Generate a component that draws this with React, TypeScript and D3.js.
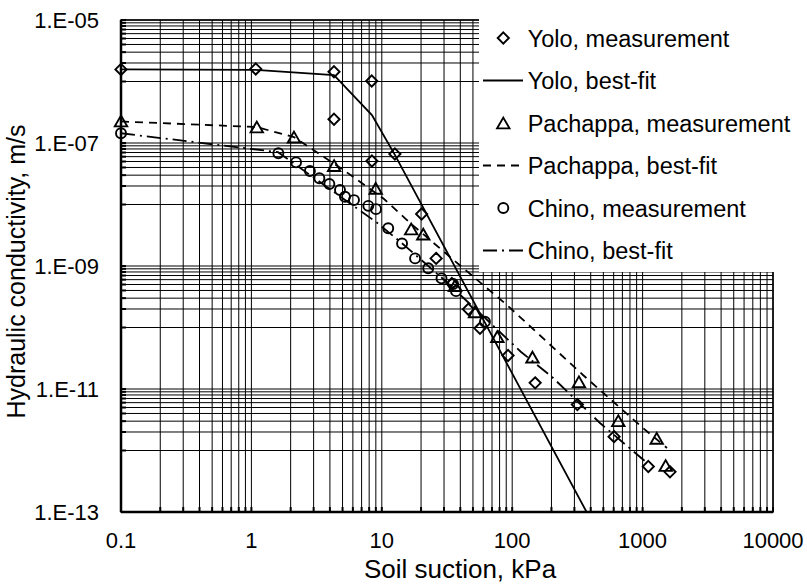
import React from "react";
import * as d3 from "d3";

// ---- data ----
const yoloMeasX = [0.1, 1.08, 4.3, 8.37, 4.3, 12.6, 8.4, 20.2, 26.1, 34.5, 46.1, 56.6, 92.9, 150, 316, 604, 1106, 1622];
const yoloMeasK = [1.57e-6, 1.6e-6, 1.44e-6, 1.02e-6, 2.43e-7, 6.62e-8, 5.1e-8, 7.0e-9, 1.33e-9, 5.2e-10, 1.98e-10, 9.7e-11, 3.5e-11, 1.26e-11, 5.6e-12, 1.68e-12, 5.5e-13, 4.5e-13];
const yoloFitX = [0.1, 1.08, 4.3, 8.4, 12.6, 372];
const yoloFitK = [1.57e-6, 1.54e-6, 1.27e-6, 2.85e-7, 6.4e-8, 1e-13];

const pachMeasX = [0.1, 1.1, 2.12, 4.31, 8.98, 16.8, 20.8, 36.4, 51.9, 76.9, 143, 325, 651, 1283, 1503];
const pachMeasK = [2.28e-7, 1.82e-7, 1.25e-7, 4.3e-8, 1.83e-8, 4.0e-9, 3.3e-9, 4.8e-10, 1.8e-10, 7.1e-11, 3.3e-11, 1.31e-11, 3.05e-12, 1.58e-12, 5.7e-13];
const pachFitX = [0.1, 1.09, 2.12, 5.22, 10.4, 16.5, 41.2, 91.2, 349, 1007, 1538];
const pachFitK = [2.24e-7, 1.82e-7, 1.25e-7, 3.5e-8, 1.23e-8, 5.0e-9, 9.6e-10, 2.32e-10, 1.69e-11, 2.32e-12, 1.1e-12];

const chinoMeasX = [0.1, 1.61, 2.2, 2.81, 3.32, 3.96, 4.78, 5.22, 6.12, 7.88, 9.03, 11.2, 14.3, 18.0, 22.7, 28.7, 35.2, 37.1, 61.8];
const chinoMeasK = [1.44e-7, 6.8e-8, 4.85e-8, 3.5e-8, 2.67e-8, 2.15e-8, 1.72e-8, 1.34e-8, 1.18e-8, 9.5e-9, 8.4e-9, 4.1e-9, 2.32e-9, 1.33e-9, 9.2e-10, 6.3e-10, 5.1e-10, 3.9e-10, 1.24e-10];
const chinoFitX = [0.1, 1.6, 9.03, 14.2, 28.5, 61.8, 117, 202, 471, 1081];
const chinoFitK = [1.44e-7, 7.1e-8, 5.2e-9, 2.37e-9, 6.6e-10, 1.43e-10, 4.0e-11, 1.57e-11, 2.8e-12, 6.3e-13];

const xTickValues = [0.1, 1, 10, 100, 1000, 10000];
const xTickLabels = ["0.1", "1", "10", "100", "1000", "10000"];
const yTickValues = [1e-13, 1e-11, 1e-9, 1e-7, 1e-5];
const yTickLabels = ["1.E-13", "1.E-11", "1.E-09", "1.E-07", "1.E-05"];

const legendLabels = [
  "Yolo, measurement",
  "Yolo, best-fit",
  "Pachappa, measurement",
  "Pachappa, best-fit",
  "Chino, measurement",
  "Chino, best-fit",
];

const W = 807, H = 584;
const L = 121, R = 773, T = 20, B = 512;
const FONT = "'Liberation Sans', Arial, sans-serif";

const x = d3.scaleLog().domain([0.1, 10000]).range([L, R]);
const y = d3.scaleLog().domain([1e-13, 1e-5]).range([B, T]);

const diamondPath = (r: number) => `M0,${-r}L${r},0L0,${r}L${-r},0Z`;
const trianglePath = (h: number, w: number) => `M0,${-h}L${w},${h}L${-w},${h}Z`;

function Marker({ kind, cx, cy }: { kind: string; cx: number; cy: number }) {
  const common = { fill: "none", stroke: "#000", strokeWidth: 1.9 };
  if (kind === "diamond") return <path d={diamondPath(5.6)} transform={`translate(${cx},${cy})`} {...common} />;
  if (kind === "triangle") return <path d={trianglePath(5.4, 6.2)} transform={`translate(${cx},${cy})`} {...common} />;
  return <circle cx={cx} cy={cy} r={5} {...common} />;
}

export default function App() {
  // gridlines
  const xGrid: number[] = [];
  for (let e = -1; e < 4; e++) for (let k = 1; k <= 9; k++) xGrid.push(k * Math.pow(10, e));
  xGrid.push(10000);
  const yGrid: number[] = [...yTickValues];
  for (let i = 0; i < yTickValues.length - 1; i++)
    for (let k = 1; k <= 9; k++) yGrid.push(yTickValues[i] * 10 * k);

  const line = d3
    .line<[number, number]>()
    .x((d) => x(d[0]))
    .y((d) => y(d[1]));
  const zip = (a: number[], b: number[]) => a.map((v, i) => [v, b[i]] as [number, number]);

  const lineStyles = [
    { key: "yolo", d: line(zip(yoloFitX, yoloFitK)), dash: undefined },
    { key: "pach", d: line(zip(pachFitX, pachFitK)), dash: "8,6" },
    { key: "chino", d: line(zip(chinoFitX, chinoFitK)), dash: "14,5,2,5" },
  ];

  const legendY0 = 38;
  const legendDy = 42.5;

  return (
    <svg width={W} height={H} style={{ position: "absolute", left: 0, top: 0, background: "#fff" }} fontFamily={FONT}>
      <defs>
        <clipPath id="plotClip">
          <rect x={L} y={T} width={R - L} height={B - T} />
        </clipPath>
      </defs>
      <rect x={0} y={0} width={W} height={H} fill="#fff" />
      {/* grid */}
      {xGrid.map((v, i) => (
        <line key={"xg" + i} x1={x(v)} x2={x(v)} y1={T} y2={B} stroke="#000" strokeWidth={1} />
      ))}
      {yGrid.map((v, i) => (
        <line key={"yg" + i} x1={L} x2={R} y1={y(v)} y2={y(v)} stroke="#000" strokeWidth={1} />
      ))}
      {/* inner ticks */}
      {yGrid.map((v, i) => (
        <line key={"yt" + i} x1={L} x2={L + 5} y1={y(v)} y2={y(v)} stroke="#000" strokeWidth={2} />
      ))}
      {xGrid.map((v, i) => (
        <line key={"xt" + i} x1={x(v)} x2={x(v)} y1={B} y2={B - 5} stroke="#000" strokeWidth={2} />
      ))}
      {/* border */}
      <rect x={L} y={T} width={R - L} height={B - T} fill="none" stroke="#000" strokeWidth={1.5} />
      <line x1={L} x2={L} y1={T} y2={B} stroke="#000" strokeWidth={2.5} />
      <line x1={L} x2={R} y1={B} y2={B} stroke="#000" strokeWidth={2.5} />

      {/* legend background */}
      <rect x={479} y={0} width={W - 479} height={272} fill="#fff" />

      {/* fit lines */}
      <g clipPath="url(#plotClip)">
        {lineStyles.map((s) => (
          <path key={s.key} d={s.d || ""} fill="none" stroke="#000" strokeWidth={1.8} strokeDasharray={s.dash} />
        ))}
      </g>

      {/* markers */}
      {yoloMeasX.map((v, i) => (
        <Marker key={"ym" + i} kind="diamond" cx={x(v)} cy={y(yoloMeasK[i])} />
      ))}
      {pachMeasX.map((v, i) => (
        <Marker key={"pm" + i} kind="triangle" cx={x(v)} cy={y(pachMeasK[i])} />
      ))}
      {chinoMeasX.map((v, i) => (
        <Marker key={"cm" + i} kind="circle" cx={x(v)} cy={y(chinoMeasK[i])} />
      ))}

      {/* tick labels */}
      {yTickValues.map((v, i) => (
        <text key={"yl" + i} x={99} y={y(v)} dy="0.35em" textAnchor="end" fontSize={22} fill="#000">
          {yTickLabels[i]}
        </text>
      ))}
      {xTickValues.map((v, i) => (
        <text key={"xl" + i} x={x(v)} y={548} textAnchor="middle" fontSize={22} fill="#000">
          {xTickLabels[i]}
        </text>
      ))}

      {/* axis titles */}
      <text x={460} y={578} textAnchor="middle" fontSize={26} fill="#000">
        Soil suction, kPa
      </text>
      <text transform={`translate(25,271.5) rotate(-90)`} textAnchor="middle" fontSize={25} fill="#000">
        Hydraulic conductivity, m/s
      </text>

      {/* legend */}
      {legendLabels.map((lab, i) => {
        const cy = legendY0 + i * legendDy;
        let sym: React.ReactNode = null;
        if (i === 0) sym = <Marker kind="diamond" cx={503.3} cy={cy} />;
        if (i === 2) sym = <Marker kind="triangle" cx={503.3} cy={cy} />;
        if (i === 4) sym = <Marker kind="circle" cx={503.3} cy={cy} />;
        if (i === 1 || i === 3 || i === 5) {
          const s = lineStyles[(i - 1) / 2];
          sym = <line x1={483} x2={523} y1={cy} y2={cy} stroke="#000" strokeWidth={1.8} strokeDasharray={s.dash} />;
        }
        return (
          <g key={"lg" + i}>
            {sym}
            <text x={527.7} y={cy + 8.7} fontSize={23.5} fill="#000">
              {lab}
            </text>
          </g>
        );
      })}
    </svg>
  );
}
